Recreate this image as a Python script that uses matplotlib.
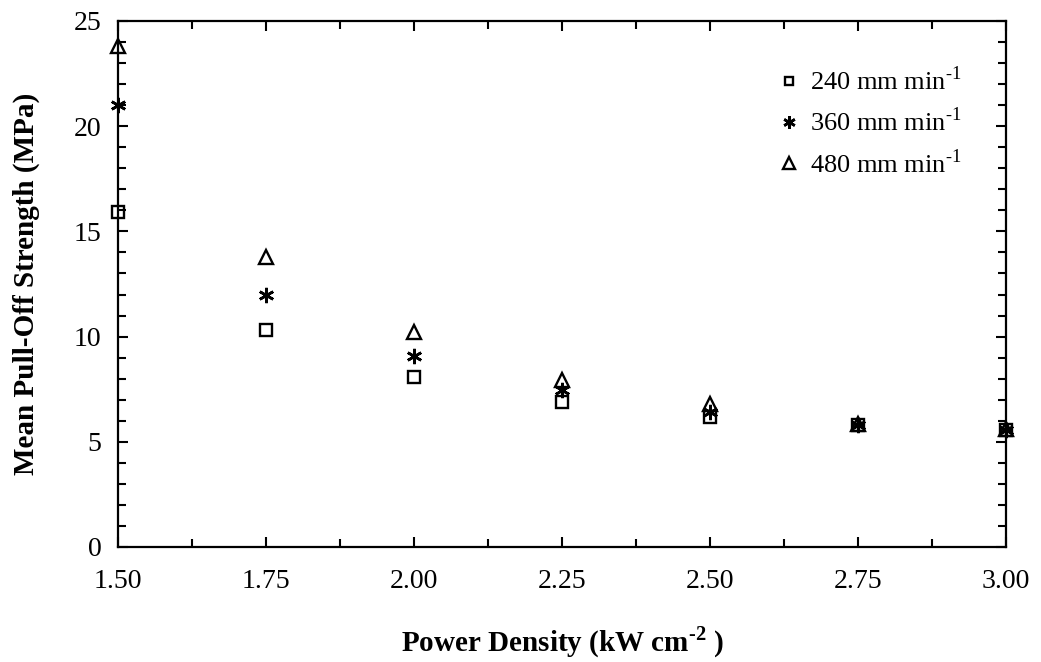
import numpy as np
import matplotlib
matplotlib.use("Agg")
import matplotlib.pyplot as plt
from matplotlib.ticker import MultipleLocator

plt.rcParams['font.family'] = ['Liberation Serif', 'DejaVu Serif']
plt.rcParams['mathtext.fontset'] = 'custom'
plt.rcParams['mathtext.rm'] = 'Liberation Serif'
plt.rcParams['mathtext.bf'] = 'Liberation Serif:bold'

# power density (kW cm^-2)
power = [1.50, 1.75, 2.00, 2.25, 2.50, 2.75, 3.00]

# mean pull-off strength (MPa) per traverse speed
strength_240 = [15.9, 10.3, 8.1, 6.9, 6.2, 5.8, 5.55]
strength_360 = [21.0, 12.0, 9.1, 7.45, 6.4, 5.8, 5.55]
strength_480 = [23.8, 13.8, 10.2, 7.95, 6.8, 5.85, 5.6]

labels = ['240 mm min$^{\\text{-1}}$', '360 mm min$^{\\text{-1}}$',
          '480 mm min$^{\\text{-1}}$']

fig = plt.figure(figsize=(10.41, 6.62), dpi=100)
ax = fig.add_axes([118/1041, 1 - 547/662, 888/1041, 526/662])

ax.plot(power, strength_240, ls='none', marker='s', ms=8, mfc='none',
        mec='black', mew=1.7, label=labels[0], clip_on=False, zorder=5)
ax.plot(power, strength_360, ls='none', marker=(6, 2, 0), ms=11,
        mec='black', mew=1.9, label=labels[1], clip_on=False, zorder=5)
ax.plot(power, strength_480, ls='none', marker='^', ms=10, mfc='none',
        mec='black', mew=1.7, label=labels[2], clip_on=False, zorder=5)

ax.set_xlim(1.5, 3.0)
ax.set_ylim(0, 25)
ax.xaxis.set_major_locator(MultipleLocator(0.25))
ax.xaxis.set_minor_locator(MultipleLocator(0.125))
ax.yaxis.set_major_locator(MultipleLocator(5))
ax.yaxis.set_minor_locator(MultipleLocator(1))
ax.set_xticklabels([f"{v:.2f}" for v in ax.get_xticks()])

for s in ax.spines.values():
    s.set_linewidth(1.6)
ax.tick_params(which='both', direction='in', top=True, right=True,
               width=1.5, labelsize=20)
ax.tick_params(which='major', length=7)
ax.tick_params(which='minor', length=5.5)
ax.tick_params(axis='x', which='major', pad=16)
ax.tick_params(axis='y', which='major', pad=12)

ax.set_xlabel('Power Density (kW cm$^{\\mathbf{\u20102}}$ )', fontsize=21,
              fontweight='bold')
ax.set_ylabel('Mean Pull-Off Strength (MPa)', fontsize=21, fontweight='bold')
ax.xaxis.set_label_coords(0.5, -0.147)
ax.yaxis.set_label_coords(-0.088, 0.5)

ax.legend(loc='upper left', bbox_to_anchor=(0.729, 0.934), frameon=False,
          fontsize=19, handletextpad=0.3, labelspacing=0.48,
          handlelength=1.0, borderaxespad=0, markerscale=0.8)

fig.savefig('out.png', dpi=100)
